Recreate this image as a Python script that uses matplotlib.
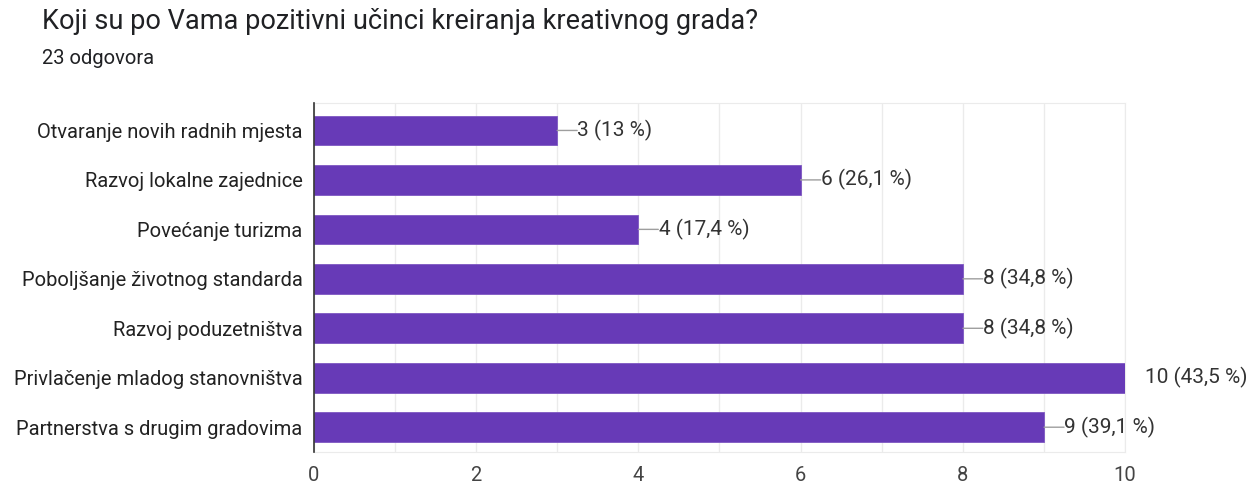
import matplotlib.pyplot as plt
from matplotlib.ticker import MultipleLocator

plt.rcParams['font.family'] = ['Roboto', 'DejaVu Sans']

kategorije = ["Otvaranje novih radnih mjesta", "Razvoj lokalne zajednice",
              "Povećanje turizma", "Poboljšanje životnog standarda",
              "Razvoj poduzetništva", "Privlačenje mladog stanovništva",
              "Partnerstva s drugim gradovima"]
odgovori = [3, 6, 4, 8, 8, 10, 9]
postoci = ["13", "26,1", "17,4", "34,8", "34,8", "43,5", "39,1"]
x_ticks = [0, 2, 4, 6, 8, 10]

fig = plt.figure(figsize=(12.6, 4.87), dpi=100)
ax = fig.add_axes([0.249, 0.072, 0.644, 0.716])

y = list(range(len(kategorije)))
ax.barh(y, odgovori, height=0.6, color="#673ab7", edgecolor="#7e57c2", linewidth=0.6, zorder=3)

ax.set_xlim(0, 10)
ax.set_ylim(6.5, -0.55)
ax.set_yticks(y)
ax.set_yticklabels(kategorije, fontsize=14.5, color="#222222")
ax.set_xticks(x_ticks)
ax.set_xticklabels([str(t) for t in x_ticks], fontsize=14.5, color="#444444")
ax.xaxis.set_minor_locator(MultipleLocator(1))
ax.grid(axis="x", which="both", color="#ebebeb", linewidth=1, zorder=0)
ax.tick_params(axis="both", which="both", length=0, pad=8)
ax.tick_params(axis="x", pad=10)

for s in ["top", "right", "bottom"]:
    ax.spines[s].set_color("#ebebeb")
ax.spines["left"].set_color("#333333")
ax.spines["left"].set_linewidth(1.2)
ax.spines["left"].set_zorder(4)

# oznake s crticom
for i, (v, p) in enumerate(zip(odgovori, postoci)):
    if v < 10:
        ax.annotate("", xy=(v, i), xytext=(14.4, 0), textcoords="offset points",
                    arrowprops=dict(arrowstyle="-", color="#9e9e9e", lw=1, shrinkA=0, shrinkB=0),
                    annotation_clip=False)
    ax.annotate(f"{v} ({p} %)", xy=(v, i), xytext=(14.6, 0), textcoords="offset points",
                va="center", ha="left", fontsize=15, color="#333333", annotation_clip=False)

fig.text(0.033, 0.955, "Koji su po Vama pozitivni učinci kreiranja kreativnog grada?",
         fontsize=19.5, color="#202124", va="center")
fig.text(0.033, 0.88, "23 odgovora", fontsize=14.5, color="#202124", va="center")

fig.savefig("out.png", dpi=100)
